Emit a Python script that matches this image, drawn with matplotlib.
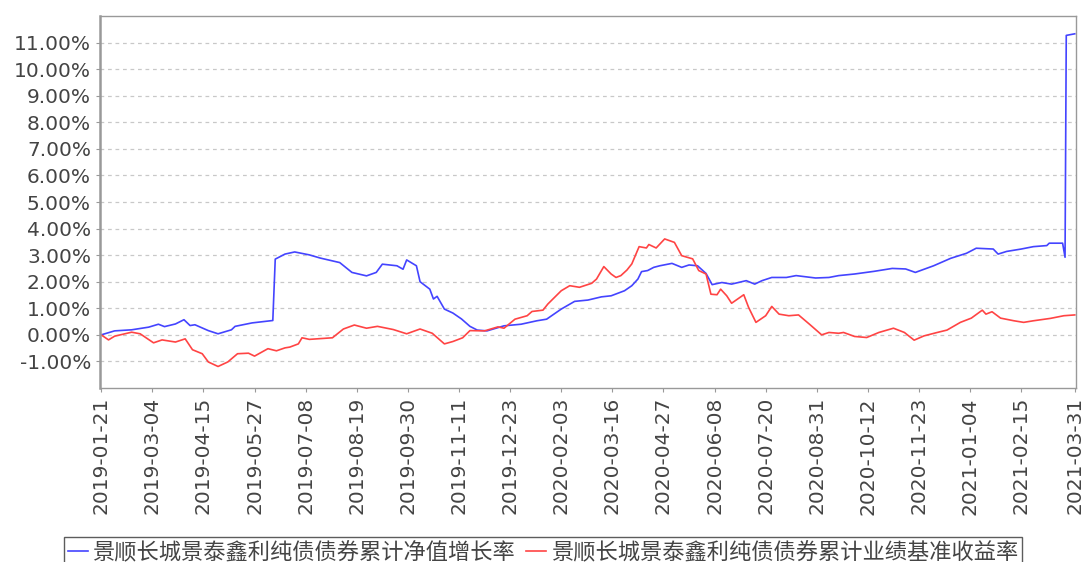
import matplotlib
matplotlib.use("Agg")
import matplotlib.pyplot as plt
from matplotlib.ticker import FuncFormatter
import pandas as pd

plt.rcParams['font.family'] = ['DejaVu Sans', 'Noto Sans CJK SC']

title = "累计净值增长率走势图"
series_names = ["景顺长城景泰鑫利纯债债券累计净值增长率", "景顺长城景泰鑫利纯债债券累计业绩基准收益率"]

tick_dates = ["2019-01-21", "2019-03-04", "2019-04-15", "2019-05-27", "2019-07-08",
              "2019-08-19", "2019-09-30", "2019-11-11", "2019-12-23", "2020-02-03",
              "2020-03-16", "2020-04-27", "2020-06-08", "2020-07-20", "2020-08-31",
              "2020-10-12", "2020-11-23", "2021-01-04", "2021-02-15", "2021-03-31"]

blue_dates = ["2019-01-21", "2019-02-01", "2019-02-15", "2019-03-01", "2019-03-09", "2019-03-14",
              "2019-03-23", "2019-03-30", "2019-04-04", "2019-04-08", "2019-04-19", "2019-04-27",
              "2019-05-08", "2019-05-11", "2019-05-25", "2019-06-11", "2019-06-13", "2019-06-21",
              "2019-06-29", "2019-07-11", "2019-07-20", "2019-08-05", "2019-08-15", "2019-08-27",
              "2019-09-04", "2019-09-09", "2019-09-21", "2019-09-26", "2019-09-29", "2019-10-07",
              "2019-10-10", "2019-10-18", "2019-10-21", "2019-10-24", "2019-10-30", "2019-11-06",
              "2019-11-13", "2019-11-20", "2019-11-26", "2019-12-04", "2019-12-18", "2020-01-01",
              "2020-01-14", "2020-01-22", "2020-02-03", "2020-02-14", "2020-02-25", "2020-03-07",
              "2020-03-15", "2020-03-26", "2020-04-01", "2020-04-06", "2020-04-09", "2020-04-14",
              "2020-04-19", "2020-04-24", "2020-05-04", "2020-05-12", "2020-05-18", "2020-05-25",
              "2020-06-01", "2020-06-06", "2020-06-14", "2020-06-22", "2020-07-04", "2020-07-11",
              "2020-07-17", "2020-07-25", "2020-08-06", "2020-08-14", "2020-08-30", "2020-09-10",
              "2020-09-18", "2020-10-01", "2020-10-17", "2020-11-01", "2020-11-12", "2020-11-20",
              "2020-12-05", "2020-12-19", "2021-01-01", "2021-01-09", "2021-01-23", "2021-01-27",
              "2021-02-03", "2021-02-15", "2021-02-25", "2021-03-08", "2021-03-10", "2021-03-21",
              "2021-03-23", "2021-03-24", "2021-03-31"]
blue_vals = [0.00, 0.15, 0.19, 0.29, 0.40, 0.31,
             0.41, 0.57, 0.35, 0.38, 0.16, 0.04,
             0.19, 0.32, 0.45, 0.54, 2.85, 3.04,
             3.12, 3.01, 2.89, 2.72, 2.35, 2.22,
             2.35, 2.66, 2.60, 2.47, 2.82, 2.60,
             2.00, 1.72, 1.35, 1.45, 0.97, 0.82,
             0.60, 0.32, 0.18, 0.15, 0.34, 0.40,
             0.53, 0.59, 0.97, 1.26, 1.31, 1.43,
             1.47, 1.66, 1.85, 2.10, 2.38, 2.42,
             2.54, 2.60, 2.69, 2.54, 2.63, 2.60,
             2.31, 1.89, 1.97, 1.91, 2.04, 1.91,
             2.04, 2.16, 2.16, 2.23, 2.14, 2.16,
             2.23, 2.29, 2.39, 2.50, 2.48, 2.35,
             2.60, 2.88, 3.07, 3.26, 3.23, 3.04,
             3.14, 3.23, 3.32, 3.36, 3.45, 3.45,
             2.92, 11.27, 11.33]

red_dates = ["2019-01-21", "2019-01-27", "2019-02-01", "2019-02-15", "2019-02-22", "2019-03-05",
             "2019-03-12", "2019-03-23", "2019-03-31", "2019-04-06", "2019-04-14", "2019-04-19",
             "2019-04-27", "2019-05-05", "2019-05-13", "2019-05-22", "2019-05-27", "2019-06-07",
             "2019-06-14", "2019-06-21", "2019-06-25", "2019-07-02", "2019-07-05", "2019-07-11",
             "2019-07-30", "2019-08-08", "2019-08-17", "2019-08-27", "2019-09-05", "2019-09-18",
             "2019-09-29", "2019-10-10", "2019-10-20", "2019-10-30", "2019-11-06", "2019-11-14",
             "2019-11-20", "2019-12-02", "2019-12-13", "2019-12-18", "2019-12-27", "2020-01-06",
             "2020-01-10", "2020-01-19", "2020-01-23", "2020-02-03", "2020-02-10", "2020-02-18",
             "2020-02-28", "2020-03-03", "2020-03-09", "2020-03-15", "2020-03-19", "2020-03-23",
             "2020-03-28", "2020-04-01", "2020-04-07", "2020-04-13", "2020-04-15", "2020-04-21",
             "2020-04-28", "2020-05-06", "2020-05-12", "2020-05-21", "2020-05-26", "2020-06-01",
             "2020-06-05", "2020-06-10", "2020-06-13", "2020-06-18", "2020-06-22", "2020-07-02",
             "2020-07-06", "2020-07-12", "2020-07-20", "2020-07-25", "2020-07-31", "2020-08-08",
             "2020-08-16", "2020-08-25", "2020-09-04", "2020-09-10", "2020-09-18", "2020-09-22",
             "2020-10-01", "2020-10-11", "2020-10-21", "2020-11-02", "2020-11-11", "2020-11-19",
             "2020-11-27", "2020-12-08", "2020-12-16", "2020-12-27", "2021-01-05", "2021-01-14",
             "2021-01-17", "2021-01-22", "2021-01-29", "2021-02-09", "2021-02-17", "2021-02-25",
             "2021-03-11", "2021-03-22", "2021-03-31"]
red_vals = [0.00, -0.19, -0.05, 0.10, 0.04, -0.30,
            -0.19, -0.27, -0.15, -0.56, -0.71, -1.02,
            -1.19, -1.02, -0.71, -0.69, -0.80, -0.52,
            -0.60, -0.49, -0.46, -0.34, -0.11, -0.17,
            -0.11, 0.22, 0.37, 0.25, 0.32, 0.20,
            0.04, 0.22, 0.06, -0.34, -0.25, -0.11,
            0.16, 0.15, 0.30, 0.25, 0.59, 0.72,
            0.88, 0.93, 1.16, 1.66, 1.85, 1.79,
            1.94, 2.10, 2.57, 2.29, 2.16, 2.23,
            2.44, 2.67, 3.32, 3.27, 3.40, 3.27,
            3.61, 3.48, 2.98, 2.86, 2.42, 2.29,
            1.53, 1.51, 1.72, 1.47, 1.19, 1.51,
            1.03, 0.47, 0.72, 1.07, 0.78, 0.72,
            0.75, 0.40, 0.00, 0.09, 0.06, 0.09,
            -0.06, -0.10, 0.09, 0.25, 0.09, -0.20,
            -0.04, 0.09, 0.18, 0.47, 0.63, 0.93,
            0.78, 0.87, 0.63, 0.53, 0.47, 0.53,
            0.62, 0.72, 0.75]

y_ticks = [-1, 0, 1, 2, 3, 4, 5, 6, 7, 8, 9, 10, 11]

fig = plt.figure(figsize=(10.86, 5.62), dpi=100)
ax = fig.add_axes([100 / 1086, (562 - 388) / 562, 976 / 1086, 372 / 562])

ax.plot(pd.to_datetime(blue_dates), blue_vals, color='#4444ff', lw=1.2, label=series_names[0])
ax.plot(pd.to_datetime(red_dates), red_vals, color='#ff4444', lw=1.2, label=series_names[1])

ax.set_xlim(pd.Timestamp("2019-01-20"), pd.Timestamp("2021-04-01"))
ax.set_ylim(-2.0, 12.0)
ax.set_yticks(y_ticks)
ax.yaxis.set_major_formatter(FuncFormatter(lambda v, p: f"{v:.2f}%"))
ax.set_xticks(pd.to_datetime(tick_dates))
ax.set_xticklabels(tick_dates, rotation=90)

ax.grid(axis='y', linestyle=(0, (3, 3)), color='#c8c8c8', lw=0.9)
ax.grid(axis='x', visible=False)
for s in ax.spines.values():
    s.set_color('#999999')
    s.set_linewidth(1.0)
ax.spines['left'].set_linewidth(1.8)
ax.tick_params(axis='both', colors='#999999', labelcolor='#444444', labelsize=14.5, length=3)

fig.text(0.5, 1 - 1 / 562, title, ha='center', va='bottom', fontsize=14, color='#444444')

leg = fig.legend(loc='upper center', bbox_to_anchor=(543 / 1086, 25 / 562), ncol=2,
                 fontsize=16, handlelength=0.9, handletextpad=0.2, columnspacing=0.5,
                 frameon=True, fancybox=False, borderpad=0.2, borderaxespad=0)
leg.get_frame().set_edgecolor('#333333')
leg.get_frame().set_linewidth(1.0)
for t in leg.get_texts():
    t.set_color('#444444')

fig.savefig("out.png", dpi=100)
